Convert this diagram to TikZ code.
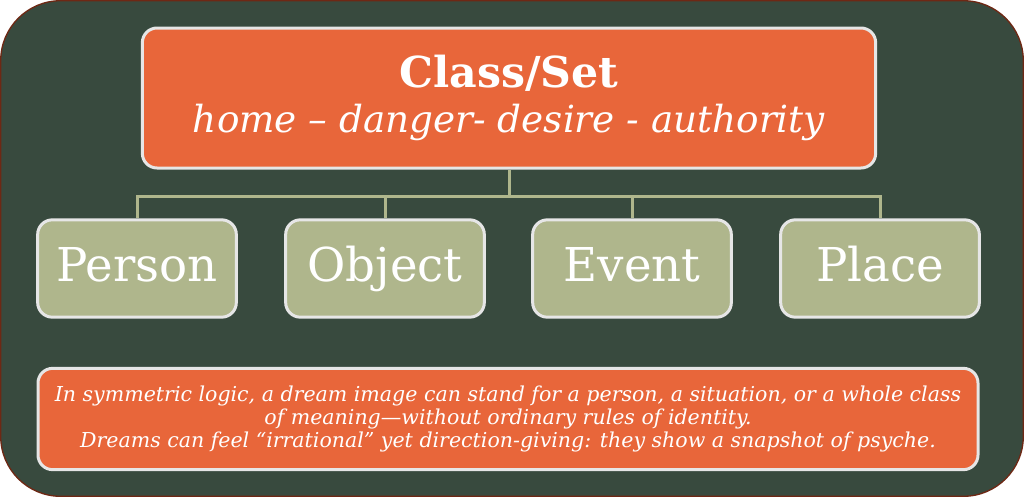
\documentclass[tikz,border=0pt]{standalone}
\usepackage{fontspec}
\setmainfont{DejaVu Serif}
\definecolor{boardgreen}{RGB}{56,74,62}
\definecolor{boardedge}{RGB}{110,40,20}
\definecolor{tangerine}{RGB}{232,102,58}
\definecolor{sage}{RGB}{175,182,140}
\definecolor{rim}{RGB}{230,230,230}
\tikzset{
  card/.style={draw=rim, line width=2.25pt, rounded corners=11pt,
    text=white, align=center, inner sep=0pt},
  headcard/.style={card, fill=tangerine, minimum width=550pt, minimum height=105pt},
  leafcard/.style={card, fill=sage, minimum width=149pt, minimum height=73pt,
    text height=26pt, text depth=7pt, font=\fontsize{35}{40}\selectfont},
  notecard/.style={card, fill=tangerine, minimum width=705pt, minimum height=76pt,
    font=\fontsize{15.4}{17}\selectfont\itshape},
  link/.style={draw=sage, line width=2.25pt}
}
\begin{document}
\begin{tikzpicture}[x=0.75pt, y=-0.75pt]
  \useasboundingbox (0, 0) rectangle (1024, 497);
  \draw [fill=boardgreen, draw=boardedge, line width=1pt, rounded corners=45pt]
    (0.7, 0.7) rectangle (1023.3, 496.3);

  \node [headcard] (set) at (509, 98)
    {{\fontsize{32}{34}\selectfont\bfseries Class/Set}\\[8pt]
     {\fontsize{28}{30}\selectfont\itshape home – danger- desire - authority}};

  \node [leafcard] (person) at (137, 268.5) {Person};
  \node [leafcard] (object) at (385, 268.5) {Object};
  \node [leafcard] (event) at (632, 268.5) {Event};
  \node [leafcard] (place) at (880, 268.5) {Place};

  % tree links
  \coordinate (bar) at (509, 196);
  \draw [link] (set.south) to (bar);
  \draw [link] (bar) -| (person.north);
  \draw [link] (bar) -| (object.north);
  \draw [link] (bar) -| (event.north);
  \draw [link] (bar) -| (place.north);

  \node [notecard] (note) at (508, 419)
    {In symmetric logic, a dream image can stand for a person, a situation, or a whole class\\
     of meaning—without ordinary rules of identity.\\
     Dreams can feel “irrational” yet direction-giving: they show a snapshot of psyche.};
\end{tikzpicture}
\end{document}
